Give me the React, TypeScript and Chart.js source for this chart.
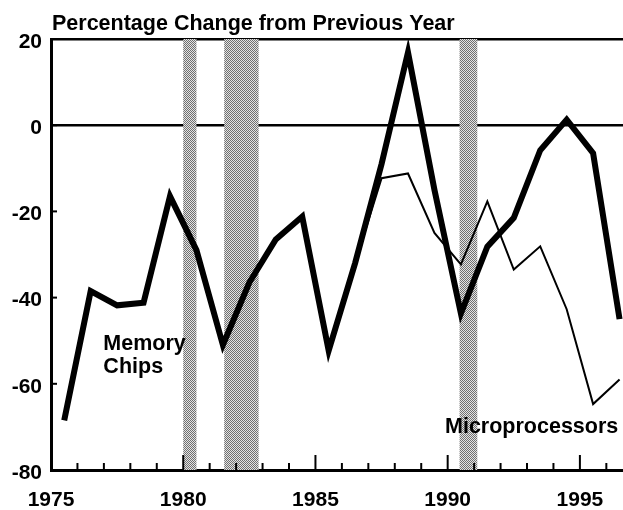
import React, { useEffect, useRef } from "react";
import { Chart, registerables } from "chart.js";

Chart.register(...registerables);

// Data (values at mid-year)
const years = [
  1975.5, 1976.5, 1977.5, 1978.5, 1979.5, 1980.5, 1981.5, 1982.5, 1983.5, 1984.5, 1985.5,
  1986.5, 1987.5, 1988.5, 1989.5, 1990.5, 1991.5, 1992.5, 1993.5, 1994.5, 1995.5, 1996.5,
];
const memoryChips = [
  -68.5, -38.5, -41.8, -41.2, -16.5, -29, -51, -36.5, -26.5, -21.2, -52.3,
  -32, -9, 16.9, -15, -43.7, -28.2, -21.5, -5.8, 1.3, -6.5, -45,
];
const microYears = [1986.5, 1987.5, 1988.5, 1989.5, 1990.5, 1991.5, 1992.5, 1993.5, 1994.5, 1995.5, 1996.5];
const microprocessors = [-32, -12.3, -11.2, -25, -32.3, -17.7, -33.5, -28.1, -42.7, -64.7, -59];

const recessionStart = [1980.0, 1981.55, 1990.45];
const recessionEnd = [1980.5, 1982.85, 1991.12];

const yTicks = [-80, -60, -40, -20, 0, 20];
const xLabelYears = [1975, 1980, 1985, 1990, 1995];

const titleText = "Percentage Change from Previous Year";
const FONT = "'Liberation Sans', Arial, Helvetica, sans-serif";

function makePattern(ctx: CanvasRenderingContext2D): CanvasPattern | string {
  const c = document.createElement("canvas");
  c.width = 2;
  c.height = 2;
  const p = c.getContext("2d");
  if (!p) return "#aaa";
  p.fillStyle = "#e4e4e4";
  p.fillRect(0, 0, 2, 2);
  p.fillStyle = "#707070";
  p.fillRect(0, 0, 1, 1);
  p.fillRect(1, 1, 1, 1);
  return ctx.createPattern(c, "repeat") || "#aaa";
}

const decorPlugin = {
  id: "decor",
  beforeDatasetsDraw(chart: any) {
    const { ctx, chartArea, scales } = chart;
    const xs = scales.x;
    ctx.save();
    ctx.fillStyle = makePattern(ctx);
    for (let i = 0; i < recessionStart.length; i++) {
      const x0 = xs.getPixelForValue(recessionStart[i]);
      const x1 = xs.getPixelForValue(recessionEnd[i]);
      ctx.fillRect(x0, chartArea.top, x1 - x0, chartArea.bottom - chartArea.top);
    }
    ctx.restore();
  },
  afterDatasetsDraw(chart: any) {
    const { ctx, chartArea, scales } = chart;
    const xs = scales.x;
    const ys = scales.y;
    ctx.save();
    ctx.strokeStyle = "#000";
    ctx.lineWidth = 2;
    // x tick marks (inside, upward)
    for (let yr = 1976; yr <= 1996; yr++) {
      const x = xs.getPixelForValue(yr);
      const len = yr % 5 === 0 ? 15 : 7;
      ctx.beginPath();
      ctx.moveTo(x, chartArea.bottom);
      ctx.lineTo(x, chartArea.bottom - len);
      ctx.stroke();
    }
    // y tick marks (inside)
    for (const v of yTicks) {
      const y = ys.getPixelForValue(v);
      ctx.beginPath();
      ctx.moveTo(chartArea.left, y);
      ctx.lineTo(chartArea.left + 6, y);
      ctx.stroke();
    }
    // annotations
    ctx.fillStyle = "#000";
    ctx.font = `bold 21.5px ${FONT}`;
    ctx.textAlign = "left";
    ctx.textBaseline = "alphabetic";
    ctx.fillText("Memory", xs.getPixelForValue(1976.98), ys.getPixelForValue(-52.2));
    ctx.fillText("Chips", xs.getPixelForValue(1976.98), ys.getPixelForValue(-57.4));
    ctx.fillText("Microprocessors", xs.getPixelForValue(1989.9), ys.getPixelForValue(-71.3));
    // title
    ctx.fillText(titleText, chartArea.left + 1, 30);
    ctx.restore();
  },
};

export default function App() {
  const ref = useRef<HTMLCanvasElement | null>(null);
  useEffect(() => {
    if (!ref.current) return;
    const chart = new Chart(ref.current, {
      type: "line",
      data: {
        datasets: [
          {
            label: "Memory Chips",
            data: years.map((x, i) => ({ x, y: memoryChips[i] })),
            borderColor: "#000",
            borderWidth: 6,
            pointRadius: 0,
            tension: 0,
            borderJoinStyle: "miter",
            fill: false,
          },
          {
            label: "Microprocessors",
            data: microYears.map((x, i) => ({ x, y: microprocessors[i] })),
            borderColor: "#000",
            borderWidth: 2,
            pointRadius: 0,
            tension: 0,
            borderJoinStyle: "miter",
            fill: false,
          },
        ],
      },
      options: {
        animation: false,
        responsive: false,
        maintainAspectRatio: false,
        layout: { padding: { top: 39, left: 0, right: 0, bottom: 0 } },
        plugins: {
          legend: { display: false },
          title: { display: false },
          tooltip: { enabled: false },
        },
        scales: {
          x: {
            type: "linear",
            min: 1975,
            max: 1996.63,
            grid: { display: false, drawTicks: false },
            border: { display: true, color: "#000", width: 3 },
            ticks: {
              stepSize: 1,
              autoSkip: false,
              maxRotation: 0,
              padding: 18,
              color: "#000",
              font: { family: FONT, size: 21, weight: "bold" },
              callback: (v: any) => (xLabelYears.includes(Number(v)) ? String(v) : ""),
            },
            afterFit: (s: any) => {
              s.height = 40;
              s.paddingLeft = 0;
              s.paddingRight = 0;
            },
          },
          y: {
            type: "linear",
            min: -80,
            max: 20,
            grid: {
              drawTicks: false,
              color: (c: any) => (c.tick && (c.tick.value === 0 || c.tick.value === 20) ? "#000" : "rgba(0,0,0,0)"),
              lineWidth: 2.5,
            },
            border: { display: true, color: "#000", width: 3 },
            ticks: {
              stepSize: 20,
              padding: 9,
              labelOffset: 3,
              color: "#000",
              font: { family: FONT, size: 21, weight: "bold" },
              callback: (v: any) => String(v),
            },
            afterFit: (s: any) => {
              s.width = 51;
              s.paddingTop = 0;
              s.paddingBottom = 0;
            },
          },
        },
      },
      plugins: [decorPlugin],
    } as any);
    return () => chart.destroy();
  }, []);
  return (
    <div style={{ position: "fixed", left: 0, top: 0, width: 623, height: 510, background: "#fff" }}>
      <canvas ref={ref} width={623} height={510} style={{ width: 623, height: 510, display: "block" }} />
    </div>
  );
}
